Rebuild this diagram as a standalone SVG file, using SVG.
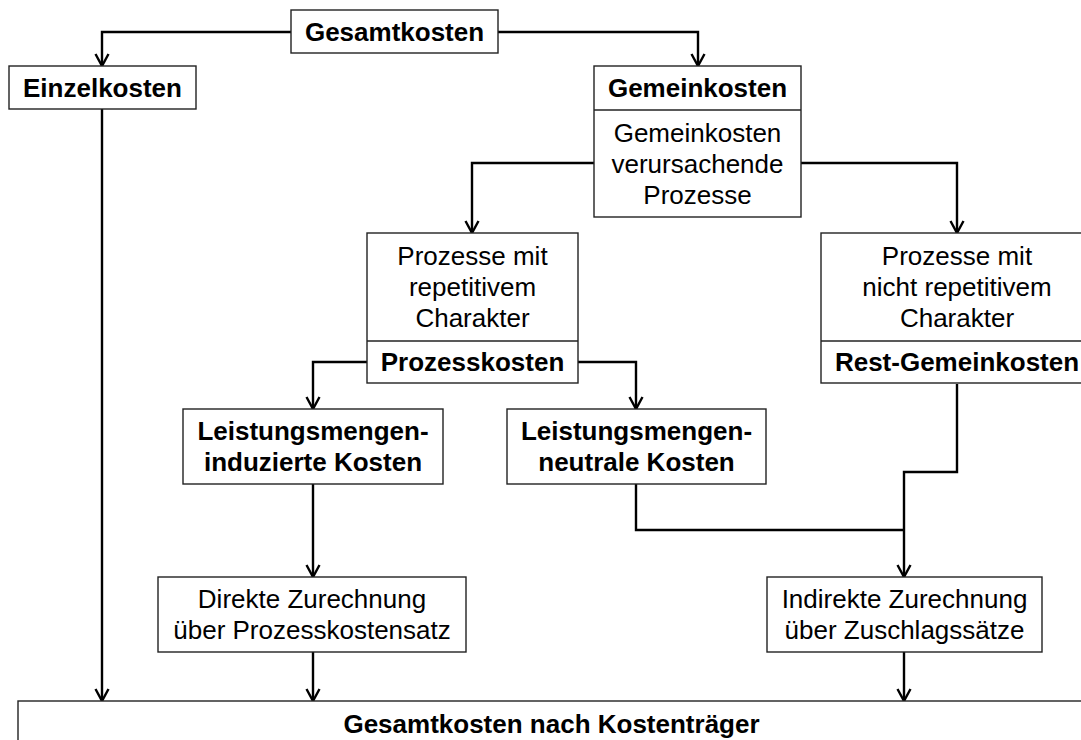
<svg xmlns="http://www.w3.org/2000/svg" width="1081" height="740" viewBox="0 0 1081 740">
  <style>
    .box { fill: #ffffff; stroke: #222222; stroke-width: 1.4; }
    .div { stroke: #222222; stroke-width: 1.4; fill: none; }
    .t { font-family: "Liberation Sans", Arial, sans-serif; font-size: 26px; fill: #000000; text-anchor: middle; }
    .b { font-weight: bold; }
    .edge { fill: none; stroke: #000000; stroke-width: 2.4; stroke-linejoin: miter; }
  </style>
  <defs>
    <marker id="arrow" markerUnits="userSpaceOnUse" markerWidth="16" markerHeight="16" viewBox="-14 -8 16 16" refX="0" refY="0" orient="auto">
      <path d="M-12,-6.5 L0,0 L-12,6.5" fill="none" stroke="#000000" stroke-width="2.4"/>
    </marker>
  </defs>
  <rect width="1081" height="740" fill="#ffffff"/>

  <!-- connectors -->
  <g id="connectors">
    <path class="edge" d="M291,32 H102 V66" marker-end="url(#arrow)"/>
    <path class="edge" d="M498,32 H698 V66" marker-end="url(#arrow)"/>
    <path class="edge" d="M594,163 H472 V233" marker-end="url(#arrow)"/>
    <path class="edge" d="M801,163 H957 V233" marker-end="url(#arrow)"/>
    <path class="edge" d="M367,362 H313 V409" marker-end="url(#arrow)"/>
    <path class="edge" d="M578,362 H636 V409" marker-end="url(#arrow)"/>
    <path class="edge" d="M102,109 V701" marker-end="url(#arrow)"/>
    <path class="edge" d="M313,484 V577" marker-end="url(#arrow)"/>
    <path class="edge" d="M313,652 V701" marker-end="url(#arrow)"/>
    <path class="edge" d="M957,384 V472 H904 V577" marker-end="url(#arrow)"/>
    <path class="edge" d="M636,484 V530 H904"/>
    <path class="edge" d="M904,652 V701" marker-end="url(#arrow)"/>
  </g>

  <!-- top level -->
  <g id="gesamtkosten">
    <rect class="box" x="291" y="10" width="207" height="43"/>
    <text class="t b" x="394.5" y="41">Gesamtkosten</text>
  </g>

  <g id="einzelkosten">
    <rect class="box" x="9" y="66" width="187" height="43"/>
    <text class="t b" x="102.5" y="97">Einzelkosten</text>
  </g>

  <g id="gemeinkosten">
    <rect class="box" x="594" y="66" width="207" height="151"/>
    <line class="div" x1="594" y1="110" x2="801" y2="110"/>
    <text class="t b" x="697.5" y="97">Gemeinkosten</text>
    <text class="t" x="697.5" y="141.5">Gemeinkosten</text>
    <text class="t" x="697.5" y="172.5">verursachende</text>
    <text class="t" x="697.5" y="203.5">Prozesse</text>
  </g>

  <!-- process branches -->
  <g id="prozesse-repetitiv">
    <rect class="box" x="367" y="233" width="211" height="150"/>
    <line class="div" x1="367" y1="341" x2="578" y2="341"/>
    <text class="t" x="472.5" y="265">Prozesse mit</text>
    <text class="t" x="472.5" y="296">repetitivem</text>
    <text class="t" x="472.5" y="327">Charakter</text>
    <text class="t b" x="472.5" y="371">Prozesskosten</text>
  </g>

  <g id="prozesse-nicht-repetitiv">
    <rect class="box" x="821" y="233" width="272" height="150"/>
    <line class="div" x1="821" y1="341" x2="1093" y2="341"/>
    <text class="t" x="957" y="265">Prozesse mit</text>
    <text class="t" x="957" y="296">nicht repetitivem</text>
    <text class="t" x="957" y="327">Charakter</text>
    <text class="t b" x="957" y="371">Rest-Gemeinkosten</text>
  </g>

  <g id="lm-induziert">
    <rect class="box" x="183" y="409" width="260" height="75"/>
    <text class="t b" x="313" y="440">Leistungsmengen-</text>
    <text class="t b" x="313" y="471">induzierte Kosten</text>
  </g>

  <g id="lm-neutral">
    <rect class="box" x="507" y="409" width="259" height="75"/>
    <text class="t b" x="636.5" y="440">Leistungsmengen-</text>
    <text class="t b" x="636.5" y="471">neutrale Kosten</text>
  </g>

  <!-- allocation -->
  <g id="direkte-zurechnung">
    <rect class="box" x="158" y="577" width="308" height="75"/>
    <text class="t" x="312" y="608">Direkte Zurechnung</text>
    <text class="t" x="312" y="639">über Prozesskostensatz</text>
  </g>

  <g id="indirekte-zurechnung">
    <rect class="box" x="767" y="577" width="275" height="75"/>
    <text class="t" x="904.5" y="608">Indirekte Zurechnung</text>
    <text class="t" x="904.5" y="639">über Zuschlagssätze</text>
  </g>

  <g id="kostentraeger">
    <rect class="box" x="18" y="701" width="1067" height="60"/>
    <text class="t b" x="551.5" y="733">Gesamtkosten nach Kostenträger</text>
  </g>
</svg>
